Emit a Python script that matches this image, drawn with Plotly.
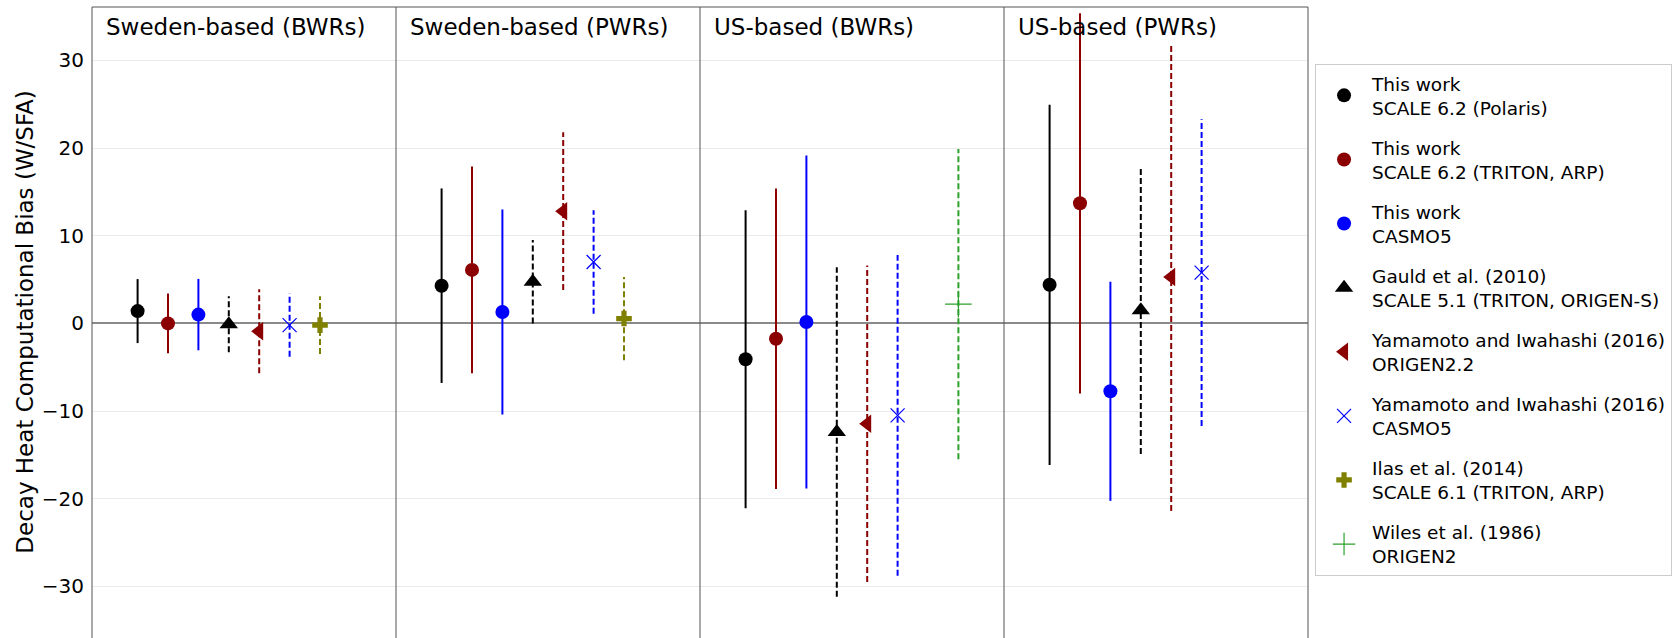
import plotly.graph_objects as go

panels = ["Sweden-based (BWRs)", "Sweden-based (PWRs)", "US-based (BWRs)", "US-based (PWRs)"]

series_names = [
    "This work<br>SCALE 6.2 (Polaris)",
    "This work<br>SCALE 6.2 (TRITON, ARP)",
    "This work<br>CASMO5",
    "Gauld et al. (2010)<br>SCALE 5.1 (TRITON, ORIGEN-S)",
    "Yamamoto and Iwahashi (2016)<br>ORIGEN2.2",
    "Yamamoto and Iwahashi (2016)<br>CASMO5",
    "Ilas et al. (2014)<br>SCALE 6.1 (TRITON, ARP)",
    "Wiles et al. (1986)<br>ORIGEN2",
]

polaris_val = [1.4, 4.3, -4.1, 4.4]
polaris_err = [3.65, 11.1, 17.0, 20.55]
triton_val = [0.0, 6.1, -1.75, 13.7]
triton_err = [3.4, 11.8, 17.15, 21.7]
casmo5_val = [1.0, 1.3, 0.15, -7.75]
casmo5_err = [4.07, 11.7, 19.0, 12.5]
gauld_val = [-0.1, 4.75, -12.4, 1.5]
gauld_err = [3.2, 4.75, 18.8, 16.4]
yama_origen_val = [-0.9, 12.8, -11.45, 5.3]
yama_origen_err = [4.8, 9.0, 18.05, 26.7]
yama_casmo_val = [-0.2, 7.0, -10.5, 5.8]
yama_casmo_err = [3.6, 5.9, 18.3, 17.5]
ilas_val = [-0.2, 0.55, None, None]
ilas_err = [3.3, 4.75, None, None]
wiles_val = [None, None, 2.2, None]
wiles_err = [None, None, 17.7, None]

values = [polaris_val, triton_val, casmo5_val, gauld_val, yama_origen_val, yama_casmo_val, ilas_val, wiles_val]
errors = [polaris_err, triton_err, casmo5_err, gauld_err, yama_origen_err, yama_casmo_err, ilas_err, wiles_err]

colors = ["#000000", "#8B0000", "#0000FF", "#000000", "#8B0000", "#0000FF", "#808000", "#2ca02c"]
symbols = ["circle", "circle", "circle", "triangle-up", "triangle-left", "x-thin-open", "cross", "cross-thin-open"]
msizes = [14, 14, 14, 16, 16, 14, 13, 19]
dashes = ["solid", "solid", "solid", "dash", "dash", "dash", "dash", "dash"]

fig = go.Figure()

# error bars as line segments
for k in range(len(series_names)):
    xs, ys = [], []
    for p in range(len(panels)):
        v, e = values[k][p], errors[k][p]
        if v is None:
            continue
        xpos = p + 0.15 + 0.1 * k
        xs += [xpos, xpos, None]
        ys += [v - e, v + e, None]
    fig.add_trace(go.Scatter(
        x=xs, y=ys, mode="lines", showlegend=False, hoverinfo="skip",
        line=dict(color=colors[k], width=2, dash="6px,3px" if dashes[k] == "dash" else "solid"),
        legendgroup=f"g{k}",
    ))

# markers
for k in range(len(series_names)):
    xs, ys = [], []
    for p in range(len(panels)):
        v = values[k][p]
        if v is None:
            continue
        xs.append(p + 0.15 + 0.1 * k)
        ys.append(v)
    lw = 1.2 if symbols[k].endswith("open") else 0
    fig.add_trace(go.Scatter(
        x=xs, y=ys, mode="markers", name=series_names[k],
        marker=dict(symbol=symbols[k], size=msizes[k], color=colors[k],
                    line=dict(color=colors[k], width=lw)),
        legendgroup=f"g{k}",
    ))

shapes = []
for p in range(1, len(panels)):
    shapes.append(dict(type="line", xref="x", yref="paper", x0=p, x1=p, y0=0, y1=1,
                       line=dict(color="#555555", width=1)))
# frame: left, right, top
shapes.append(dict(type="line", xref="paper", yref="paper", x0=0, x1=0, y0=0, y1=1, line=dict(color="#555555", width=1)))
shapes.append(dict(type="line", xref="paper", yref="paper", x0=1, x1=1, y0=0, y1=1, line=dict(color="#555555", width=1)))
shapes.append(dict(type="line", xref="paper", yref="paper", x0=0, x1=1, y0=1, y1=1, line=dict(color="#555555", width=1)))

annotations = []
for p, name in enumerate(panels):
    annotations.append(dict(x=p, y=1, xref="x", yref="paper", text=name, showarrow=False,
                            xanchor="left", yanchor="middle", xshift=12, yshift=-20,
                            font=dict(size=23, color="#000000")))
annotations.append(dict(x=-0.0547, y=0.502, xref="paper", yref="paper",
                        text="Decay Heat Computational Bias (W/SFA)", textangle=-90,
                        showarrow=False, xanchor="center", yanchor="middle",
                        font=dict(size=23, color="#000000")))

fig.update_layout(
    width=1680, height=638,
    margin=dict(l=92, r=372, t=7, b=0),
    paper_bgcolor="white", plot_bgcolor="white",
    font=dict(family="DejaVu Sans", color="#000000"),
    xaxis=dict(range=[0, 4], showgrid=False, zeroline=False, showticklabels=False,
               ticks="", showline=False),
    yaxis=dict(range=[-35.9, 36.1], tickvals=[-30, -20, -10, 0, 10, 20, 30],
               showgrid=True, gridcolor="#ebebeb", gridwidth=1,
               zeroline=True, zerolinecolor="#8a8a8a", zerolinewidth=1.5,
               ticks="outside", ticklen=3, tickcolor="rgba(0,0,0,0)",
               tickfont=dict(size=20), showline=False),
    shapes=shapes,
    annotations=annotations,
    legend=dict(x=1.0058, y=0.91, xanchor="left", yanchor="top",
                bordercolor="#cccccc", borderwidth=1, bgcolor="white",
                font=dict(size=18.5), tracegroupgap=13, itemwidth=46),
    showlegend=True,
)

fig.write_html("out.html")
